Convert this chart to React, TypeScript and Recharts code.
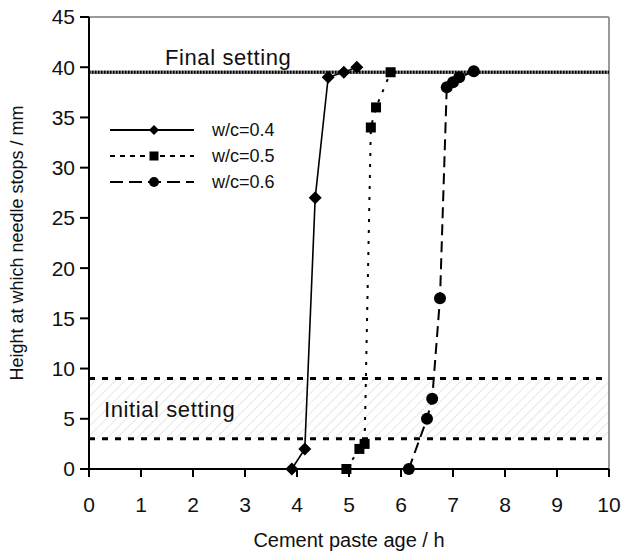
import {
  ComposedChart,
  Line,
  XAxis,
  YAxis,
  ReferenceLine,
  ReferenceArea,
  Label,
} from "recharts";

// cement paste age (h) and needle stop height (mm) for each w/c ratio
const ages04 = [3.9, 4.15, 4.35, 4.6, 4.9, 5.15];
const heights04 = [0, 2, 27, 39, 39.5, 40];
const ages05 = [4.95, 5.2, 5.3, 5.42, 5.52, 5.8];
const heights05 = [0, 2, 2.5, 34, 36, 39.5];
const ages06 = [6.15, 6.5, 6.6, 6.75, 6.88, 7.0, 7.12, 7.4];
const heights06 = [0, 5, 7, 17, 38, 38.5, 39, 39.6];

const xTicks = [0, 1, 2, 3, 4, 5, 6, 7, 8, 9, 10];
const yTicks = [0, 5, 10, 15, 20, 25, 30, 35, 40, 45];

const initialLow = 3;
const initialHigh = 9;
const finalSetting = 39.5;

const seriesNames = ["w/c=0.4", "w/c=0.5", "w/c=0.6"];

const toPoints = (xs: number[], ys: number[]) => xs.map((x, i) => ({ x, y: ys[i] }));

const FONT = "'Liberation Sans', Arial, sans-serif";

function Diamond({ cx, cy, s = 6.5 }: { cx: number; cy: number; s?: number }) {
  return <polygon points={`${cx},${cy - s} ${cx + s},${cy} ${cx},${cy + s} ${cx - s},${cy}`} fill="#000" />;
}
function Square({ cx, cy, s = 5 }: { cx: number; cy: number; s?: number }) {
  return <rect x={cx - s} y={cy - s} width={2 * s} height={2 * s} fill="#000" />;
}
function Circle({ cx, cy, r = 6 }: { cx: number; cy: number; r?: number }) {
  return <circle cx={cx} cy={cy} r={r} fill="#000" />;
}

const dotDiamond = (p: any) => <Diamond key={p.index} cx={p.cx} cy={p.cy} />;
const dotSquare = (p: any) => <Square key={p.index} cx={p.cx} cy={p.cy} />;
const dotCircle = (p: any) => <Circle key={p.index} cx={p.cx} cy={p.cy} />;

function LegendBox() {
  const dashes = [undefined, "5 5", "13 6"];
  const markers = [
    <Diamond cx={44} cy={8} s={5} />,
    <Square cx={44} cy={8} s={4.5} />,
    <Circle cx={44} cy={8} r={5} />,
  ];
  return (
    <div style={{ position: "absolute", left: 110, top: 117, fontFamily: FONT, fontSize: 18 }}>
      {seriesNames.map((name, i) => (
        <div key={name} style={{ display: "flex", alignItems: "center", height: 26 }}>
          <svg width={86} height={16}>
            <line x1={0} y1={8} x2={84} y2={8} stroke="#000" strokeWidth={2} strokeDasharray={dashes[i]} />
            {markers[i]}
          </svg>
          <span style={{ marginLeft: 16, color: "#111" }}>{name}</span>
        </div>
      ))}
    </div>
  );
}

export default function App() {
  return (
    <div style={{ position: "absolute", left: 0, top: 0, width: 625, height: 553, background: "#fff" }}>
      <ComposedChart width={625} height={553} margin={{ top: 17, right: 16, left: 0, bottom: 0 }}>
        <defs>
          <pattern id="hatch" width={7} height={7} patternUnits="userSpaceOnUse" patternTransform="rotate(45)">
            <line x1={0} y1={0} x2={0} y2={7} stroke="#d0d0d0" strokeWidth={1} />
          </pattern>
        </defs>
        <XAxis
          type="number"
          dataKey="x"
          domain={[0, 10]}
          ticks={xTicks}
          height={84}
          tickSize={8}
          tickMargin={20}
          stroke="#000"
          strokeWidth={2}
          tick={{ fill: "#111", fontSize: 21, fontFamily: FONT }}
          allowDuplicatedCategory={false}
        >
          <Label
            value="Cement paste age / h"
            position="insideBottom"
            offset={6}
            style={{ fill: "#111", fontSize: 20, fontFamily: FONT }}
          />
        </XAxis>
        <YAxis
          type="number"
          domain={[0, 45]}
          ticks={yTicks}
          width={89}
          tickSize={9}
          tickMargin={5}
          stroke="#000"
          strokeWidth={2}
          tick={{ fill: "#111", fontSize: 21, fontFamily: FONT }}
        >
          <Label
            value="Height at which needle stops / mm"
            angle={-90}
            position="insideLeft"
            offset={17}
            style={{ fill: "#111", fontSize: 18, fontFamily: FONT, textAnchor: "middle" }}
          />
        </YAxis>
        <ReferenceLine y={45} stroke="#999" strokeWidth={2} />
        <ReferenceLine x={10} stroke="#999" strokeWidth={2} />
        <ReferenceArea
          y1={initialLow}
          y2={initialHigh}
          fill="url(#hatch)"
          fillOpacity={1}
          stroke="none"
          label={{
            value: "Initial setting",
            position: "insideLeft",
            offset: 15,
            style: { fill: "#111", fontSize: 22, fontFamily: FONT, letterSpacing: 0.6 },
          }}
        />
        <ReferenceLine y={initialLow} stroke="#000" strokeWidth={3} strokeDasharray="6 7" />
        <ReferenceLine y={initialHigh} stroke="#000" strokeWidth={3} strokeDasharray="6 7" />
        <ReferenceLine y={finalSetting} stroke="#888" strokeWidth={3.5} />
        <ReferenceLine
          y={finalSetting}
          stroke="#000"
          strokeWidth={3}
          strokeDasharray="1.5 1.5"
          label={{
            value: "Final setting",
            content: (p: any) => (
              <text
                x={p.viewBox.x + 76}
                y={p.viewBox.y - 7}
                fill="#111"
                fontSize={22}
                fontFamily={FONT}
                letterSpacing={0.6}
              >
                Final setting
              </text>
            ),
          }}
        />
        <Line
          data={toPoints(ages04, heights04)}
          dataKey="y"
          name={seriesNames[0]}
          type="linear"
          stroke="#000"
          strokeWidth={1.6}
          dot={dotDiamond}
          isAnimationActive={false}
        />
        <Line
          data={toPoints(ages05, heights05)}
          dataKey="y"
          name={seriesNames[1]}
          type="linear"
          stroke="#000"
          strokeWidth={2}
          strokeDasharray="3 8"
          dot={dotSquare}
          isAnimationActive={false}
        />
        <Line
          data={toPoints(ages06, heights06)}
          dataKey="y"
          name={seriesNames[2]}
          type="linear"
          stroke="#000"
          strokeWidth={2}
          strokeDasharray="11 6"
          dot={dotCircle}
          isAnimationActive={false}
        />
      </ComposedChart>
      <LegendBox />
    </div>
  );
}
